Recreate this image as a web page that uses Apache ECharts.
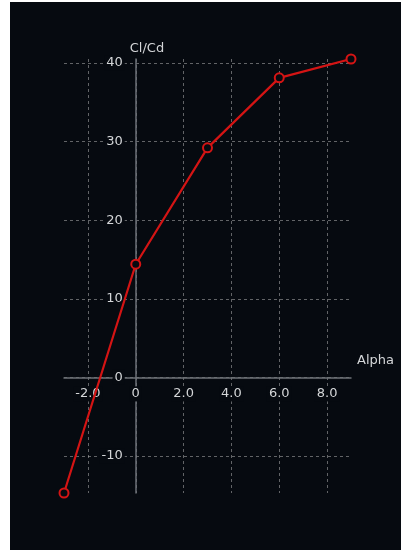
<!DOCTYPE html>
<html>
<head>
<meta charset="utf-8">
<script src="https://cdn.jsdelivr.net/npm/echarts@6/dist/echarts.min.js"></script>
<style>
  html, body { margin: 0; padding: 0; background: #ffffff; }
  #chart { position: absolute; left: 10px; top: 2px; width: 391px; height: 548px; background: #060a10; }
</style>
</head>
<body>
<div id="chart"></div>
<script>
// Lift-to-drag ratio against angle of attack
const alpha = [-3, 0, 3, 6, 9];
const clcd = [-14.7, 14.4, 29.2, 38.1, 40.5];
const xAxisName = 'Alpha';
const yAxisName = 'Cl/Cd';

const bg = '#060a10';
const labelColor = '#d4d6d8';
const gridColor = 'rgba(175,175,175,0.55)';
const axisColor = '#6d7177';
const lineColor = '#d41414';
const font = 'DejaVu Sans';

const gridBox = { left: 54, right: 50, top: 57, bottom: 57 };

const chart = echarts.init(document.getElementById('chart'), null, { renderer: 'canvas' });

const labelBox = {
  color: labelColor,
  fontFamily: font,
  fontSize: 13,
  backgroundColor: bg,
  padding: [1, 2]
};

chart.setOption({
  backgroundColor: bg,
  animation: false,
  grid: Object.assign({ containLabel: false }, gridBox),
  xAxis: {
    type: 'value',
    position: 'bottom',
    min: Math.min(...alpha),
    max: Math.max(...alpha),
    splitNumber: 5,
    name: xAxisName,
    nameLocation: 'end',
    nameGap: 6,
    nameTextStyle: { color: labelColor, fontFamily: font, fontSize: 13, align: 'left', verticalAlign: 'bottom', padding: [0, 0, 10, 0] },
    axisLine: { onZero: false, lineStyle: { color: axisColor, width: 1.5 } },
    axisTick: { show: false },
    axisLabel: Object.assign({
      margin: 9,
      showMinLabel: false,
      showMaxLabel: false,
      formatter: v => v === 0 ? '0' : v.toFixed(1)
    }, labelBox),
    splitLine: { show: true, showMinLine: false, showMaxLine: false, lineStyle: { color: gridColor, type: [3, 3], width: 1 } }
  },
  yAxis: {
    type: 'value',
    position: 'left',
    min: Math.min(...clcd),
    max: Math.max(...clcd),
    splitNumber: 5,
    name: yAxisName,
    nameLocation: 'end',
    nameGap: 4,
    nameTextStyle: { color: labelColor, fontFamily: font, fontSize: 13, align: 'left', padding: [0, 0, 0, -6] },
    axisLine: { onZero: false, lineStyle: { color: axisColor, width: 1.5 } },
    axisTick: { show: false },
    axisLabel: Object.assign({
      margin: 11,
      showMinLabel: false,
      showMaxLabel: false,
      formatter: v => String(Math.round(v))
    }, labelBox),
    splitLine: { show: true, showMinLine: false, showMaxLine: false, lineStyle: { color: gridColor, type: [3, 3], width: 1 } }
  },
  series: [{
    type: 'line',
    data: alpha.map((a, i) => [a, clcd[i]]),
    symbol: 'circle',
    symbolSize: 9,
    lineStyle: { color: lineColor, width: 2.2 },
    itemStyle: { color: bg, borderColor: lineColor, borderWidth: 2 },
    z: 5
  }]
});

// Move both axes (line, labels and name) so they cross at the origin
const origin = chart.convertToPixel({ gridIndex: 0 }, [0, 0]);
const plotBottom = chart.getHeight() - gridBox.bottom;
chart.setOption({
  xAxis: { offset: -(plotBottom - origin[1]) },
  yAxis: { offset: -(origin[0] - gridBox.left) }
});
</script>
</body>
</html>
